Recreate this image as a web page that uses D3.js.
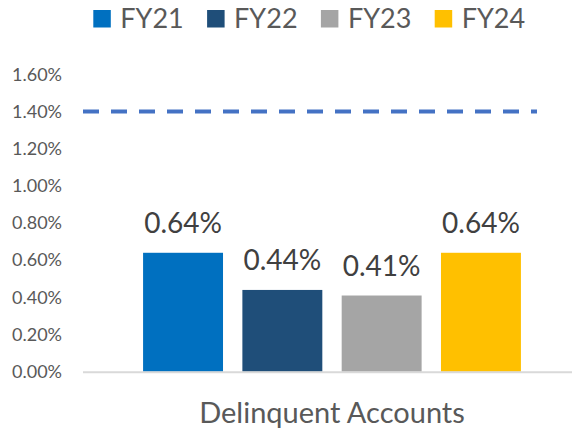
<!DOCTYPE html>
<html>
<head>
<meta charset="utf-8">
<script src="https://cdn.jsdelivr.net/npm/d3@7"></script>
<style>
  body { margin: 0; background: #fff; }
  svg { display: block; font-family: Lato, "Open Sans", sans-serif; }
</style>
</head>
<body>
<div id="chart"></div>
<script>
// data
var categories = ["Delinquent Accounts"];
var seriesNames = ["FY21", "FY22", "FY23", "FY24"];
var seriesValues = [0.0064, 0.0044, 0.0041, 0.0064];
var seriesColors = ["#0070C0", "#1F4E79", "#A5A5A5", "#FFC000"];
var yTicks = [0, 0.002, 0.004, 0.006, 0.008, 0.010, 0.012, 0.014, 0.016];
var targetValue = 0.014;

var width = 572, height = 430;
var plotLeft = 83, plotRight = 581, plotTop = 74.4, plotBottom = 371.7;

var svg = d3.select("#chart").append("svg")
  .attr("width", width)
  .attr("height", height);

var y = d3.scaleLinear()
  .domain([0, 0.016])
  .range([plotBottom, plotTop]);

var x0 = d3.scaleBand()
  .domain(categories)
  .range([plotLeft, plotRight])
  .paddingInner(0)
  .paddingOuter(0.159);

var x1 = d3.scaleBand()
  .domain(seriesNames)
  .range([0, x0.bandwidth()])
  .paddingInner(0.195)
  .paddingOuter(0);

var fmt = d3.format(".2%");

// y axis labels, no line, no ticks
var yAxis = svg.append("g")
  .attr("transform", "translate(" + plotLeft + ",0)")
  .call(d3.axisLeft(y).tickValues(yTicks).tickFormat(fmt).tickSize(0).tickPadding(21));
yAxis.select(".domain").remove();
yAxis.selectAll("text")
  .style("font-family", "Lato, sans-serif")
  .style("font-size", "18px")
  .attr("fill", "#595959");

// bars
var group = svg.append("g")
  .selectAll("g")
  .data(categories)
  .join("g")
  .attr("transform", function(d) { return "translate(" + x0(d) + ",0)"; });

var rows = seriesNames.map(function(name, i) {
  return {name: name, value: seriesValues[i], color: seriesColors[i]};
});

group.selectAll("rect")
  .data(rows)
  .join("rect")
  .attr("x", function(d) { return x1(d.name); })
  .attr("y", function(d) { return y(d.value); })
  .attr("width", x1.bandwidth())
  .attr("height", function(d) { return y(0) - y(d.value); })
  .attr("fill", function(d) { return d.color; });

group.selectAll("text.lbl")
  .data(rows)
  .join("text")
  .attr("class", "lbl")
  .attr("x", function(d) { return x1(d.name) + x1.bandwidth() / 2; })
  .attr("y", function(d) { return y(d.value) - 20; })
  .attr("text-anchor", "middle")
  .style("font-size", "28px")
  .attr("fill", "#404040")
  .text(function(d) { return fmt(d.value); });

// category axis line
svg.append("line")
  .attr("x1", plotLeft)
  .attr("x2", plotRight)
  .attr("y1", y(0) + 0.5)
  .attr("y2", y(0) + 0.5)
  .attr("stroke", "#D9D9D9")
  .attr("stroke-width", 2);

svg.selectAll("text.cat")
  .data(categories)
  .join("text")
  .attr("class", "cat")
  .attr("x", function(d) { return x0(d) + x0.bandwidth() / 2; })
  .attr("y", 423)
  .attr("text-anchor", "middle")
  .style("font-size", "29px")
  .attr("fill", "#595959")
  .text(function(d) { return d; });

// target dashed line
svg.append("line")
  .attr("x1", plotLeft)
  .attr("x2", 537)
  .attr("y1", y(targetValue))
  .attr("y2", y(targetValue))
  .attr("stroke", "#4472C4")
  .attr("stroke-width", 4)
  .attr("stroke-dasharray", "16,12");

// legend
var legend = svg.append("g")
  .selectAll("g")
  .data(rows)
  .join("g")
  .attr("transform", function(d, i) { return "translate(" + (93.3 + i * 113.8) + ",0)"; });

legend.append("rect")
  .attr("x", 0)
  .attr("y", 10)
  .attr("width", 17.5)
  .attr("height", 17.5)
  .attr("fill", function(d) { return d.color; });

legend.append("text")
  .attr("x", 27)
  .attr("y", 28)
  .style("font-size", "27px")
  .attr("fill", "#595959")
  .text(function(d) { return d.name; });
</script>
</body>
</html>
